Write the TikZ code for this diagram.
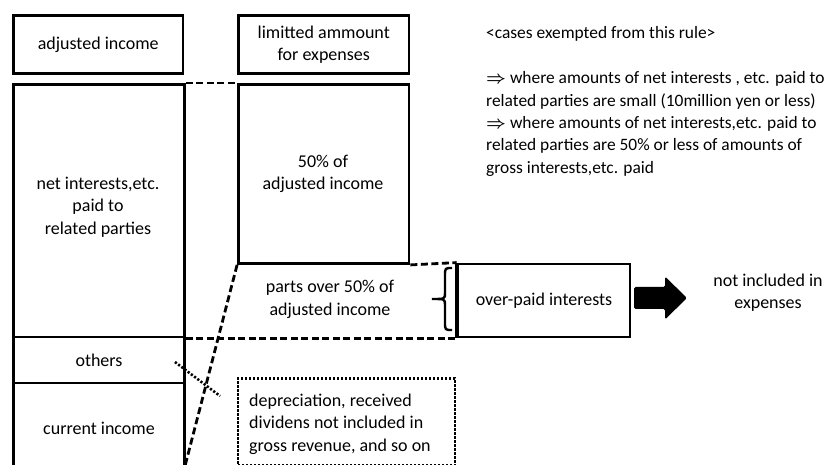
\documentclass[tikz,border=0pt]{standalone}
\usepackage{fontspec}
\setmainfont{Carlito}
\usetikzlibrary{calc}

\begin{document}
\begin{tikzpicture}[x=1pt,y=-1pt]
\useasboundingbox (0,0) rectangle (831,465);
\tikzset{
  box/.style={draw, line width=2.8pt, inner sep=0pt, align=center, font=\txt},
  plain/.style={inner sep=0pt, align=center, font=\txt},
  note/.style={inner sep=0pt, align=left, font=\notetxt},
  dashline/.style={line width=2.8pt, dash pattern=on 7pt off 3.5pt},
  dotline/.style={line width=2.6pt, dash pattern=on 2.2pt off 1.8pt},
}
\newcommand{\txt}{\fontsize{18}{22.4}\selectfont}
\newcommand{\notetxt}{\fontsize{17.4}{22.4}\selectfont}

% top row
\node[box, minimum width=169.5pt, minimum height=58pt] (adj) at (98.25,44.5) {adjusted income};
\node[box, minimum width=170.5pt, minimum height=58pt] (lim) at (323.75,44.5) {limitted ammount\\for expenses};

% left column: adjusted income split into parts
\node[box, minimum width=171pt, minimum height=252.5pt] (net) at (99,210.75) {};
\node[plain] (nettxt) at (98,207) {net interests,etc.\\paid to\\related parties};
\node[box, minimum width=171pt, minimum height=46pt] (oth) at (99,360) {others};
\node[box, minimum width=171pt, minimum height=90pt] (cur) at (99,428) {current income};

% middle column
\node[box, minimum width=170.5pt, minimum height=179pt] (fifty) at (323.75,174) {};
\node[plain] (fiftytxt) at (323,174) {50\% of\\adjusted income};
\node[plain] (over) at (330,299.5) {parts over 50\% of\\adjusted income};

% over-paid interests
\node[box, minimum width=172pt, minimum height=73pt] (paid) at (544,300.5) {over-paid interests};
\draw[line width=3.8pt] (paid.north west) -- (paid.south west);

% dotted box of excluded items
\node[draw, dotline, minimum width=217pt, minimum height=87pt] (dep) at (346.5,422) {};
\node[plain, anchor=west, align=left] (deptxt) at (249,424) {depreciation, received\\dividens not included in\\gross revenue, and so on};

% dashed guide lines
\coordinate (slantend) at (185,466);
\draw[dashline] (net.north east) -- (fifty.north west);
\draw[dashline] (fifty.south east) -- (paid.north west);
\draw[dashline] (net.south east) -- (paid.south west);
\draw[dashline] (fifty.south west) -- (slantend);

% dotted crossing mark
\coordinate (crossA) at (175,362);
\coordinate (crossB) at (220,396);
\draw[dotline] (crossA) -- (crossB);

% brace in front of over-paid interests
\draw[line width=2.4pt] (452,268) .. controls (445,268) .. (445,276) -- (445,293)
  .. controls (445,299) .. (432,299) .. controls (445,299) .. (445,305) -- (445,322)
  .. controls (445,330) .. (452,330);

% block arrow to the result
\node[plain] (notinc) at (768,293) {not included in\\expenses};
\fill[rounded corners=1.5pt] (634,287) -- (665,287) -- (665,276.5) -- (687,298)
  -- (665,319.5) -- (665,309) -- (634,309) -- cycle;

% exemption notes
\node[note, anchor=west] (hdr) at (486,34) {<cases exempted from this rule>};
\node[note, anchor=west] (cases) at (486,124) {{\boldmath$\Rightarrow$} where amounts of net interests , etc. paid to\\related parties are small (10million yen or less)\\{\boldmath$\Rightarrow$} where amounts of net interests,etc. paid to\\related parties are 50\% or less of amounts of\\gross interests,etc. paid};
\end{tikzpicture}
\end{document}
